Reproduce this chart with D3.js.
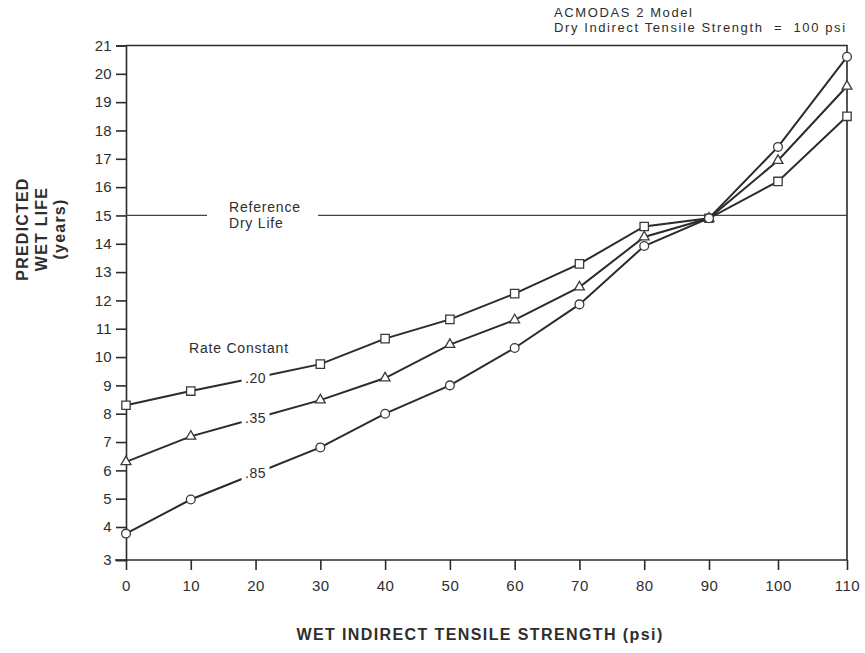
<!DOCTYPE html>
<html>
<head>
<meta charset="utf-8">
<script src="https://cdn.jsdelivr.net/npm/d3@7/dist/d3.min.js"></script>
<style>
  html, body { margin: 0; padding: 0; background: #fff; }
  svg { display: block; font-family: "Liberation Sans", Arial, Helvetica, sans-serif; }
  text { fill: #2e2e2e; }
</style>
</head>
<body>
<svg id="chart" width="865" height="653"></svg>
<script>
// Wet indirect tensile strength (psi)
const strength = [0, 10, 20, 30, 40, 50, 60, 70, 80, 90, 100, 110];

// Predicted wet life (years) for each moisture-damage rate constant
const rate20 = [8.3, 8.8, 9.27, 9.75, 10.65, 11.33, 12.24, 13.29, 14.61, 14.9, 16.2, 18.5];
const rate35 = [6.3, 7.2, 7.84, 8.48, 9.26, 10.44, 11.31, 12.47, 14.24, 14.9, 16.94, 19.56];
const rate85 = [3.8, 4.97, 5.89, 6.81, 8.0, 9.0, 10.32, 11.86, 13.92, 14.9, 17.42, 20.6];

const rateLabels = [".20", ".35", ".85"];
const referenceDryLife = 15;

const xTicks = [0, 10, 20, 30, 40, 50, 60, 70, 80, 90, 100, 110];
const yTicks = [3, 4, 5, 6, 7, 8, 9, 10, 11, 12, 13, 14, 15, 16, 17, 18, 19, 20, 21];

const svg = d3.select("#chart");
const ink = "#2b2b2b";

// Hand-ruled axes: the grid is slightly uneven, so piecewise scales are used
const x = d3.scaleLinear().domain([0, 90, 110]).range([126, 709, 847]);
const y = d3.scaleLinear().domain([3, 4, 21]).range([560, 527, 45.5]);

const plotLeft = x(0), plotRight = x(110), plotTop = y(21), plotBottom = y(3);

// Frame: top and right edges
svg.append("path")
  .attr("d", `M${plotLeft},${plotTop}H${plotRight}V${plotBottom}`)
  .attr("fill", "none").attr("stroke", ink).attr("stroke-width", 1.6);

// Y axis
const yAxis = svg.append("g")
  .attr("transform", `translate(${plotLeft},0)`)
  .call(d3.axisLeft(y).tickValues(yTicks).tickSize(10).tickPadding(4).tickFormat(d3.format("d")));
yAxis.select(".domain").attr("stroke", ink).attr("stroke-width", 1.6);
yAxis.selectAll(".tick line").attr("stroke", ink).attr("stroke-width", 1.6);
yAxis.selectAll(".tick text")
  .attr("font-size", 15).attr("fill", "#2e2e2e")
  .style("letter-spacing", "0.3px")
  .style("font-family", "'Liberation Sans', Arial, sans-serif");

// X axis
const xAxis = svg.append("g")
  .attr("transform", `translate(0,${plotBottom})`)
  .call(d3.axisBottom(x).tickValues(xTicks).tickSize(10).tickPadding(10).tickFormat(d3.format("d")));
xAxis.select(".domain").attr("stroke", ink).attr("stroke-width", 1.6)
  .attr("d", `M${plotLeft - 11},0H${plotRight}`);
xAxis.selectAll(".tick line").attr("stroke", ink).attr("stroke-width", 1.6);
xAxis.selectAll(".tick text")
  .attr("font-size", 15).attr("fill", "#2e2e2e")
  .style("letter-spacing", "0.5px")
  .style("font-family", "'Liberation Sans', Arial, sans-serif");

// Reference dry life line, broken around its label
const refY = y(referenceDryLife);
svg.append("line").attr("x1", plotLeft).attr("x2", 207).attr("y1", refY).attr("y2", refY)
  .attr("stroke", "#444").attr("stroke-width", 1.2);
svg.append("line").attr("x1", 318).attr("x2", plotRight).attr("y1", refY).attr("y2", refY)
  .attr("stroke", "#444").attr("stroke-width", 1.2);
const refLabel = svg.append("text").attr("font-size", 14).style("letter-spacing", "0.8px");
refLabel.append("tspan").attr("x", 229).attr("y", refY - 3).text("Reference");
refLabel.append("tspan").attr("x", 229).attr("y", refY + 13).text("Dry Life");

// Series
const series = [
  { values: rate20, shape: "square", label: rateLabels[0] },
  { values: rate35, shape: "triangle", label: rateLabels[1] },
  { values: rate85, shape: "circle", label: rateLabels[2] }
];

const line = d3.line().x(d => x(d[0])).y(d => y(d[1]));
const symbolFor = {
  square: d3.symbol().type(d3.symbolSquare).size(70),
  triangle: d3.symbol().type(d3.symbolTriangle).size(42),
  circle: d3.symbol().type(d3.symbolCircle).size(60)
};

series.forEach(s => {
  const pts = strength.map((v, i) => [v, s.values[i]]);
  svg.append("path").datum(pts)
    .attr("d", line)
    .attr("fill", "none").attr("stroke", ink).attr("stroke-width", 2);

  // Curve label sits on the line at 20 psi, with a gap cut out behind it
  const lx = x(20), ly = y(s.values[2]);
  svg.append("rect")
    .attr("x", lx - 14).attr("y", ly - 9).attr("width", 28).attr("height", 18)
    .attr("fill", "#fff");
  svg.append("text")
    .attr("x", lx).attr("y", ly + 5)
    .attr("text-anchor", "middle").attr("font-size", 14)
    .style("letter-spacing", "0.6px")
    .text(s.label);

  svg.append("g").selectAll("path")
    .data(pts.filter(d => d[0] !== 20))
    .join("path")
    .attr("transform", d => `translate(${x(d[0])},${y(d[1])})`)
    .attr("d", symbolFor[s.shape])
    .attr("fill", "#fff").attr("stroke", "#3a3a3a").attr("stroke-width", 1.3);
});

svg.append("text")
  .attr("x", 189).attr("y", 353)
  .attr("font-size", 14).style("letter-spacing", "0.8px")
  .text("Rate Constant");

// Model note, upper right
const note = svg.append("text").attr("font-size", 13)
  .style("letter-spacing", "1.6px").style("white-space", "pre");
note.append("tspan").attr("x", 554).attr("y", 17).text("ACMODAS 2 Model");
note.append("tspan").attr("x", 554).attr("y", 32).text("Dry Indirect Tensile Strength  =  100 psi");

// Axis titles
const yTitle = svg.append("text")
  .attr("transform", "translate(0,229) rotate(-90)")
  .attr("text-anchor", "middle").attr("font-size", 16).attr("font-weight", "bold")
  .style("letter-spacing", "1.2px");
yTitle.append("tspan").attr("x", 0).attr("y", 28).text("PREDICTED");
yTitle.append("tspan").attr("x", 0).attr("y", 47).text("WET LIFE");
yTitle.append("tspan").attr("x", 0).attr("y", 65).text("(years)");

svg.append("text")
  .attr("x", 480).attr("y", 640)
  .attr("text-anchor", "middle").attr("font-size", 16).attr("font-weight", "bold")
  .style("letter-spacing", "1.4px")
  .text("WET INDIRECT TENSILE STRENGTH (psi)");
</script>
</body>
</html>
